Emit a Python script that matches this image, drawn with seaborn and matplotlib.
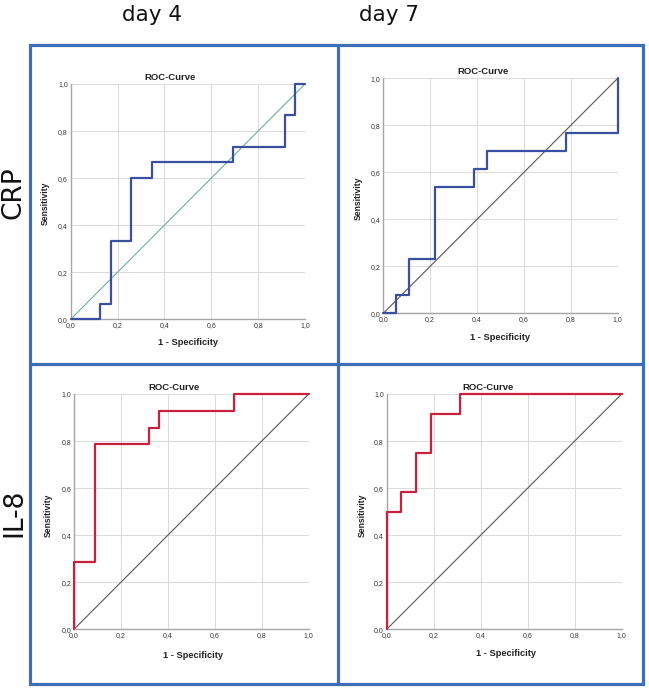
import matplotlib
matplotlib.use("Agg")
import matplotlib.pyplot as plt
import seaborn as sns
import pandas as pd
from matplotlib.patches import Rectangle
from matplotlib.lines import Line2D

# ROC points (1 - specificity, sensitivity), drawn as steps
crp_d4_fpr = [0.0, 0.125, 0.171, 0.259, 0.349, 0.694, 0.915, 0.959, 1.0]
crp_d4_tpr = [0.0, 0.067, 0.333, 0.600, 0.667, 0.733, 0.867, 1.0, 1.0]

crp_d7_fpr = [0.0, 0.054, 0.110, 0.220, 0.387, 0.441, 0.780, 1.0]
crp_d7_tpr = [0.0, 0.077, 0.231, 0.538, 0.615, 0.692, 0.769, 1.0]

il8_d4_fpr = [0.0, 0.0, 0.089, 0.318, 0.362, 0.682, 1.0]
il8_d4_tpr = [0.0, 0.286, 0.786, 0.857, 0.929, 1.0, 1.0]

il8_d7_fpr = [0.0, 0.0, 0.062, 0.126, 0.187, 0.313, 1.0]
il8_d7_tpr = [0.0, 0.500, 0.583, 0.750, 0.917, 1.0, 1.0]

ticks = [0.0, 0.2, 0.4, 0.6, 0.8, 1.0]
tick_labels = ["0,0", "0,2", "0,4", "0,6", "0,8", "1,0"]
col_titles = ["day 4", "day 7"]
row_titles = ["CRP", "IL-8"]

W, H = 649, 690
BLUE_BOX = "#3d6fb6"
CURVE_BLUE = "#3a4fa0"
CURVE_RED = "#c8213f"

sns.set_style("whitegrid")
plt.rcParams['font.family'] = ['Liberation Sans', 'DejaVu Sans']

fig = plt.figure(figsize=(W / 100, H / 100), dpi=100)


def fx(x):
    return x / W


def fy(y):
    return 1 - y / H


def roc_panel(box, fpr, tpr, color, diag_color, title_xy, xlab_xy, ylab_xy):
    x0, x1, top, bottom = box
    ax = fig.add_axes([fx(x0), fy(bottom), fx(x1 - x0), (bottom - top) / H])
    df = pd.DataFrame({'fpr': fpr, 'tpr': tpr})
    ax.plot([0, 1], [0, 1], color=diag_color, lw=0.8, zorder=2)
    sns.lineplot(data=df, x='fpr', y='tpr', ax=ax, estimator=None, sort=False,
                 drawstyle='steps-post', color=color, lw=1.6, legend=False,
                 zorder=3, clip_on=False)
    ax.set_xlim(0, 1)
    ax.set_ylim(0, 1)
    ax.set_xticks(ticks)
    ax.set_yticks(ticks)
    ax.set_xticklabels(tick_labels)
    ax.set_yticklabels(tick_labels)
    ax.tick_params(length=0, labelsize=5, pad=2, colors='#333333')
    ax.grid(True, color='#dcdcdc', lw=0.8)
    ax.set_xlabel('')
    ax.set_ylabel('')
    for s in ['top', 'right']:
        ax.spines[s].set_visible(False)
    for s in ['left', 'bottom']:
        ax.spines[s].set_color('#a6a6a6')
        ax.spines[s].set_linewidth(1.0)
    fig.text(fx(title_xy[0]), fy(title_xy[1]), 'ROC-Curve', ha='center', va='center',
             fontsize=6.8, fontweight='bold', color='#222222')
    fig.text(fx(xlab_xy[0]), fy(xlab_xy[1]), '1 - Specificity', ha='center', va='center',
             fontsize=6.7, fontweight='bold', color='#222222')
    fig.text(fx(ylab_xy[0]), fy(ylab_xy[1]), 'Sensitivity', ha='center', va='center',
             rotation=90, fontsize=6.2, fontweight='bold', color='#222222')
    return ax


roc_panel((70.7, 305, 84, 319.3), crp_d4_fpr, crp_d4_tpr, CURVE_BLUE, '#6fae9f',
          (170, 78), (188, 343), (45, 203))
roc_panel((383.3, 617.7, 78.3, 313.3), crp_d7_fpr, crp_d7_tpr, CURVE_BLUE, '#555555',
          (483, 72), (500, 337), (358, 198))
roc_panel((74, 308.7, 394, 629.3), il8_d4_fpr, il8_d4_tpr, CURVE_RED, '#555555',
          (174, 388), (193, 655), (48, 515))
roc_panel((386.7, 621.7, 394, 629.3), il8_d7_fpr, il8_d7_tpr, CURVE_RED, '#555555',
          (488, 388), (506, 654), (362, 515))

# blue frame around the 2x2 grid
fig.patches.append(Rectangle((fx(30), fy(684)), fx(643 - 30), (684 - 45) / H,
                             transform=fig.transFigure, fill=False,
                             edgecolor=BLUE_BOX, lw=2.3))
fig.lines.append(Line2D([fx(338), fx(338)], [fy(45), fy(684)],
                        transform=fig.transFigure, color=BLUE_BOX, lw=2.3))
fig.lines.append(Line2D([fx(30), fx(643)], [fy(364), fy(364)],
                        transform=fig.transFigure, color=BLUE_BOX, lw=2.3))

# column and row headers
fig.text(fx(152), fy(15), col_titles[0], ha='center', va='center', fontsize=15.5,
         family='DejaVu Sans', color='#111111')
fig.text(fx(389), fy(15), col_titles[1], ha='center', va='center', fontsize=15.5,
         family='DejaVu Sans', color='#111111')
fig.text(fx(14), fy(193), row_titles[0], ha='center', va='center', fontsize=19,
         rotation=90, family='DejaVu Sans', color='#111111')
fig.text(fx(14), fy(513), row_titles[1], ha='center', va='center', fontsize=19,
         rotation=90, family='DejaVu Sans', color='#111111')

fig.savefig('out.png', dpi=100, facecolor='white')
